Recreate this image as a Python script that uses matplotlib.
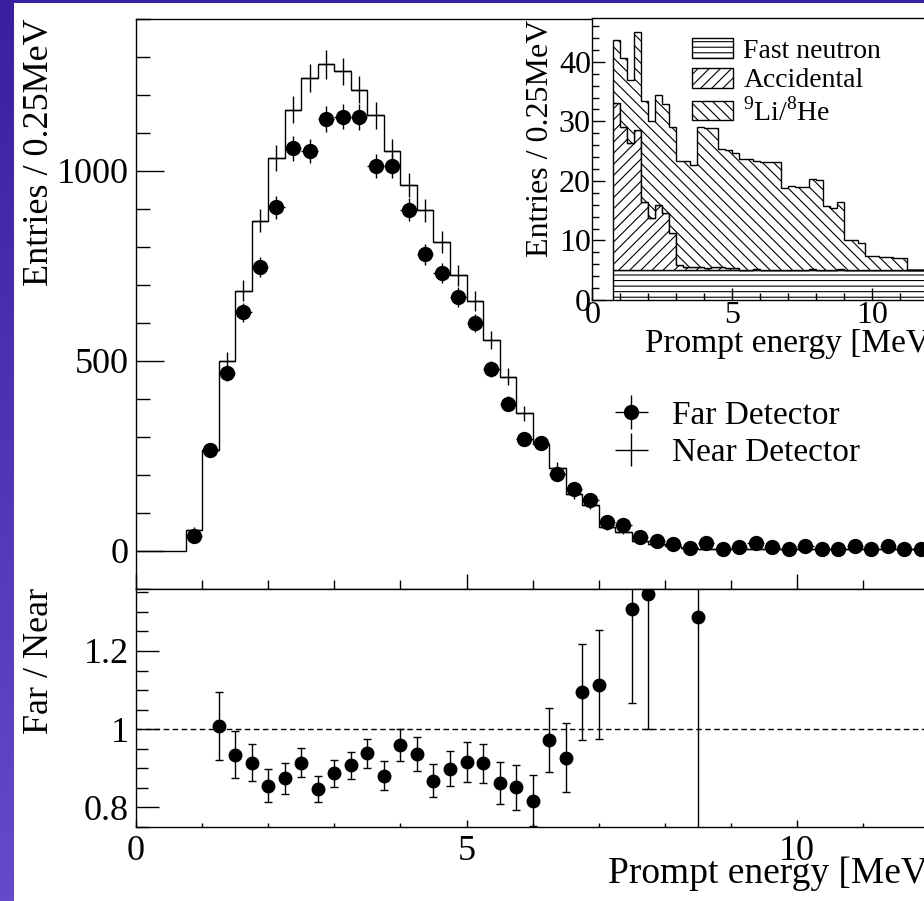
import matplotlib
matplotlib.use("Agg")
import matplotlib.pyplot as plt
import numpy as np
from matplotlib.patches import Patch, Rectangle
from matplotlib.ticker import MultipleLocator

plt.rcParams['font.family'] = ['Liberation Serif', 'DejaVu Serif']
plt.rcParams['mathtext.fontset'] = 'custom'
plt.rcParams['mathtext.rm'] = 'Liberation Serif'
plt.rcParams['hatch.linewidth'] = 0.8

# ---- main panel data (0.25 MeV bins) ----
bin_edges = np.arange(0, 12.01, 0.25)
bin_centers = np.arange(0.875, 12.0, 0.25)   # bins starting at 0.75 MeV

near_vals = [0, 0, 0,
             55, 265, 500, 684, 868, 1033, 1160, 1243, 1279, 1261,
             1213, 1145, 1051, 961, 895, 811, 724, 656, 554, 457,
             361, 281, 218, 149, 121, 61, 50, 26, 17, 11,
             5.5, 5, 5, 5, 5, 5, 5, 5, 5, 5, 5, 5, 5, 5, 5]
near_err = [8, 17, 23, 27, 30, 33, 35, 36, 37, 36,
            36, 35, 33, 32, 31, 29, 28, 27, 24, 22,
            20, 17, 15, 13, 11, 8, 7, 5, 4, 3,
            2.5, 2.5, 2.5, 2.5, 2.5, 2.5, 2.5, 2.5, 2.5, 2.5, 2.5, 2.5, 2.5, 2.5, 2.5]

far_vals = [37, 265, 467, 627, 746, 903, 1059, 1051, 1136, 1142,
            1140, 1011, 1011, 897, 779, 730, 668, 598, 478, 386,
            294, 282, 202, 162, 133, 75, 66, 35, 26, 17,
            7, 21, 3, 9, 21, 9, 5, 11, 3, 3,
            11, 3, 11, 3, 3]
far_err = [6, 16, 22, 25, 27, 30, 33, 32, 34, 34,
           34, 32, 32, 30, 28, 27, 26, 24, 22, 20,
           17, 17, 14, 13, 12, 9, 8, 6, 5, 4,
           3, 5, 2, 3, 5, 3, 2, 3, 2, 2,
           3, 2, 3, 2, 2]

# ---- ratio panel ----
ratio_x = [1.25, 1.5, 1.75, 2.0, 2.25, 2.5, 2.75, 3.0, 3.25, 3.5,
           3.75, 4.0, 4.25, 4.5, 4.75, 5.0, 5.25, 5.5, 5.75, 6.0,
           6.25, 6.5, 6.75, 7.0, 7.5, 7.75, 8.5]
ratio_vals = [1.008, 0.934, 0.914, 0.855, 0.874, 0.914, 0.846, 0.887, 0.907, 0.938,
              0.881, 0.959, 0.936, 0.868, 0.898, 0.915, 0.912, 0.862, 0.851, 0.817,
              0.972, 0.927, 1.095, 1.114, 1.307, 1.346, 1.286]
ratio_err = [0.088, 0.060, 0.048, 0.043, 0.040, 0.038, 0.034, 0.035, 0.035, 0.037,
             0.038, 0.042, 0.044, 0.042, 0.045, 0.051, 0.051, 0.053, 0.057, 0.065,
             0.081, 0.089, 0.124, 0.139, 0.240, 0.347, 1.300]

# ---- inset: backgrounds, 0.25 MeV bins from 0.75 MeV ----
bg_edges = np.arange(0.75, 12.01, 0.25)
fast_neutron = [5.0, 5.0, 5.0, 5.0, 5.0, 5.0, 5.0, 5.0, 5.0, 5.0,
                5.0, 5.0, 5.0, 5.0, 5.0, 5.0, 5.0, 5.0, 5.0, 5.0,
                5.0, 5.0, 5.0, 5.0, 5.0, 5.0, 5.0, 5.0, 5.0, 5.0,
                5.0, 5.0, 5.0, 5.0, 5.0, 5.0, 5.0, 5.0, 5.0, 5.0,
                5.0, 5.0, 5.0, 5.0, 5.0]
accidental = [28.1, 24.1, 21.3, 23.6, 11.5, 8.7, 11.0, 9.6, 6.2, 0.8,
              0.6, 0.5, 0.5, 0.4, 0.5, 0.5, 0.4, 0.3, 0.0, 0.0,
              0.2, 0.0, 0.0, 0.0, 0.1, 0.0, 0.0, 0.0, 0.2, 0.0,
              0.0, 0.0, 0.2, 0.0, 0.0, 0.0, 0.0, 0.0, 0.0, 0.0,
              0.0, 0.0, 0.0, 0.0, 0.0]
li9he = [10.5, 11.5, 10.7, 16.4, 16.9, 16.3, 18.5, 18.3, 17.9, 17.6,
         17.8, 17.1, 23.5, 23.4, 23.4, 19.9, 19.8, 19.4, 18.7, 18.7,
         18.2, 18.2, 18.2, 18.2, 13.7, 14.2, 13.9, 13.9, 15.2, 15.1,
         10.8, 10.5, 11.2, 5.0, 5.0, 4.6, 2.4, 2.4, 2.3, 2.3,
         2.0, 2.0, 0.0, 0.0, 0.0]

W, H = 924, 901
fig = plt.figure(figsize=(W / 100, H / 100), dpi=100)
fig.patch.set_facecolor('white')


def fx(px):
    return px / W


def fy(py):
    return 1 - py / H


# purple frame strips (left and top)
strip = fig.add_axes([0, 0, fx(14), 1])
grad = np.linspace(0, 1, 256)[:, None]
cols = np.array([58, 32, 160]) * (1 - grad) + np.array([100, 75, 205]) * grad
strip.imshow(cols[:, None, :] / 255, aspect='auto', extent=[0, 1, 0, 1], origin='upper')
strip.axis('off')
fig.add_artist(Rectangle((0, fy(3)), 1, 3 / H, transform=fig.transFigure,
                         facecolor=(58 / 255, 32 / 255, 160 / 255), edgecolor='none'))

px_per_mev = 66.1
x0 = 136
ax = fig.add_axes([fx(x0), fy(588.5), 12.5 * px_per_mev / W, (588.5 - 18.5) / H])
axr = fig.add_axes([fx(x0), fy(826.7), 12.5 * px_per_mev / W, (826.7 - 588.5) / H])

for a in (ax, axr):
    a.set_xlim(0, 12.5)
    for s in a.spines.values():
        s.set_linewidth(1.0)
    a.spines['right'].set_visible(False)

# main panel
ax.set_ylim(-100, 1400)
ax.stairs(near_vals, bin_edges, color='black', linewidth=1.0, baseline=None)
h_near = ax.errorbar(bin_centers, near_vals[3:], xerr=0.125, yerr=near_err, fmt='none',
                     ecolor='black', elinewidth=1.0)
h_far = ax.errorbar(bin_centers, far_vals, xerr=0.125, yerr=far_err, fmt='o', color='black',
                    markersize=10, elinewidth=1.0, zorder=3)
ax.yaxis.set_major_locator(MultipleLocator(500))
ax.yaxis.set_minor_locator(MultipleLocator(100))
ax.xaxis.set_major_locator(MultipleLocator(5))
ax.xaxis.set_minor_locator(MultipleLocator(1))
ax.tick_params(axis='y', which='major', direction='in', length=20, width=1, labelsize=26, pad=5)
ax.tick_params(axis='y', which='minor', direction='in', length=10, width=1)
ax.tick_params(axis='x', which='major', direction='in', length=11, width=1, labelbottom=False)
ax.tick_params(axis='x', which='minor', direction='in', length=6.5, width=1)
ax.legend([h_far, h_near], ['Far Detector', 'Near Detector'], loc='upper left',
          bbox_to_anchor=(fx(603), fy(400)), bbox_transform=fig.transFigure,
          frameon=False, fontsize=24, handlelength=1.7, handletextpad=0.36,
          borderpad=0, borderaxespad=0, labelspacing=0.22)

# ratio panel
axr.set_ylim(0.75, 1.36)
axr.axhline(1.0, color='black', linewidth=1.0, linestyle=(0, (4, 2.5)))
axr.errorbar(ratio_x, ratio_vals, yerr=ratio_err, fmt='o', color='black', markersize=9,
             elinewidth=1.0, capsize=3, capthick=1.0, zorder=3)
axr.yaxis.set_major_locator(MultipleLocator(0.2))
axr.yaxis.set_minor_locator(MultipleLocator(0.05))
axr.xaxis.set_major_locator(MultipleLocator(5))
axr.xaxis.set_minor_locator(MultipleLocator(1))
axr.set_yticks([0.8, 1.0, 1.2])
axr.set_yticklabels(['0.8', '1', '1.2'])
axr.tick_params(axis='y', which='major', direction='in', length=16.5, width=1, labelsize=26, pad=5)
axr.tick_params(axis='y', which='minor', direction='in', length=8.6, width=1)
axr.tick_params(axis='x', which='major', direction='in', length=5, width=1, labelsize=26, pad=6)
axr.tick_params(axis='x', which='minor', direction='in', length=3, width=1)

# inset
ins_px = 28.0
axi = fig.add_axes([fx(592.3), fy(300), 12.5 * ins_px / W, (300 - 18.3) / H])
axi.set_facecolor('white')
axi.set_xlim(0, 12.5)
axi.set_ylim(0, 47.3)
fn = np.array(fast_neutron)
acc = fn + np.array(accidental)
tot = acc + np.array(li9he)
axi.stairs(fn, bg_edges, baseline=0, fill=True, facecolor='white', edgecolor='black',
           hatch='---', linewidth=1.0)
axi.stairs(acc, bg_edges, baseline=fn, fill=True, facecolor='white', edgecolor='black',
           hatch='///', linewidth=1.0)
axi.stairs(tot, bg_edges, baseline=acc, fill=True, facecolor='white', edgecolor='black',
           hatch='\\\\\\', linewidth=1.0)
for s in axi.spines.values():
    s.set_linewidth(1.0)
axi.spines['right'].set_visible(False)
axi.yaxis.set_major_locator(MultipleLocator(10))
axi.yaxis.set_minor_locator(MultipleLocator(2))
axi.xaxis.set_major_locator(MultipleLocator(5))
axi.xaxis.set_minor_locator(MultipleLocator(1))
axi.tick_params(axis='both', which='major', direction='in', length=9, width=1, labelsize=23, pad=1)
axi.tick_params(axis='both', which='minor', direction='in', length=5, width=1)
handles = [Patch(facecolor='white', edgecolor='black', hatch='---'),
           Patch(facecolor='white', edgecolor='black', hatch='///'),
           Patch(facecolor='white', edgecolor='black', hatch='\\\\\\')]
axi.legend(handles, ['Fast neutron', 'Accidental', '$^{9}$Li/$^{8}$He'], loc='upper left',
           bbox_to_anchor=(fx(691.7), fy(38)), bbox_transform=fig.transFigure,
           frameon=False, fontsize=20, handlelength=1.5, handleheight=0.72,
           handletextpad=0.36, borderpad=0, borderaxespad=0, labelspacing=0.15)

# axis titles (ROOT style, aligned to the ends)
fig.text(fx(40), fy(18), 'Entries / 0.25MeV', rotation=90, ha='center', va='top', fontsize=26)
fig.text(fx(40), fy(588), 'Far / Near', rotation=90, ha='center', va='top', fontsize=26)
fig.text(fx(608), fy(883), 'Prompt energy [MeV]', ha='left', va='baseline', fontsize=27)
fig.text(fx(541), fy(20), 'Entries / 0.25MeV', rotation=90, ha='center', va='top', fontsize=23)
fig.text(fx(645), fy(351.7), 'Prompt energy [MeV]', ha='left', va='baseline', fontsize=24)

fig.savefig('out.png', dpi=100)
